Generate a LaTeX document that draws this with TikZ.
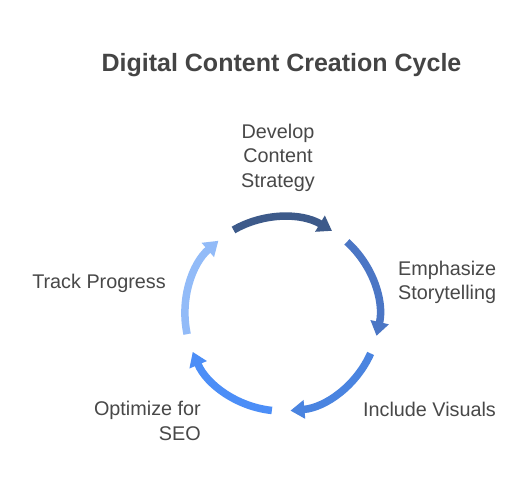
\documentclass[tikz,border=0pt]{standalone}
\usepackage{fontspec}
\setmainfont{Liberation Sans}
\usetikzlibrary{arrows.meta,calc}
\definecolor{txt}{HTML}{484848}
\definecolor{ttl}{HTML}{444444}
\definecolor{cA}{HTML}{3D5A8A}
\definecolor{cB}{HTML}{4B76C5}
\definecolor{cC}{HTML}{4A84E0}
\definecolor{cD}{HTML}{4C8EF7}
\definecolor{cE}{HTML}{92BBF8}
\tikzset{
  lbl/.style={text=txt, inner sep=0pt, font=\fontsize{19.8}{24.5}\selectfont},
  cyc/.style={line width=7.5pt, -{Triangle[width=18pt,length=14pt]}},
}
\begin{document}
\begin{tikzpicture}[x=1pt,y=1pt]
\useasboundingbox (0,0) rectangle (528,492);
\fill[white] (0,0) rectangle (528,492);
\coordinate (C) at (282,178);
\def\R{97}
\node[text=ttl, inner sep=0pt, font=\fontsize{25}{30}\selectfont\bfseries] (title) at (281.5,427) {Digital Content Creation Cycle};
% arcs
\coordinate (s1) at ($(C)+(120:\R)$);
\coordinate (s2) at ($(C)+(48:\R)$);
\coordinate (s3) at ($(C)+(-24:\R)$);
\coordinate (s4) at ($(C)+(-96:\R)$);
\coordinate (s5) at ($(C)+(-168:\R)$);
\draw[cyc, cA] (s1) arc[start angle=120, end angle=59, radius=\R];
\draw[cyc, cB] (s2) arc[start angle=48, end angle=-13, radius=\R];
\draw[cyc, cC] (s3) arc[start angle=-24, end angle=-85, radius=\R];
\draw[cyc, cD] (s4) arc[start angle=-96, end angle=-157, radius=\R];
\draw[cyc, cE] (s5) arc[start angle=-168, end angle=-229, radius=\R];
% labels
\node[lbl, align=center] (l1) at (278,334.5) {Develop\\Content\\Strategy};
\node[lbl, align=left, anchor=west] (l2) at (398,209.5) {Emphasize\\Storytelling};
\node[lbl] (l3) at (429.5,83) {Include Visuals};
\node[lbl, align=right, anchor=east] (l4) at (201,71) {Optimize for\\SEO};
\node[lbl] (l5) at (99,209) {Track Progress};
\end{tikzpicture}
\end{document}
